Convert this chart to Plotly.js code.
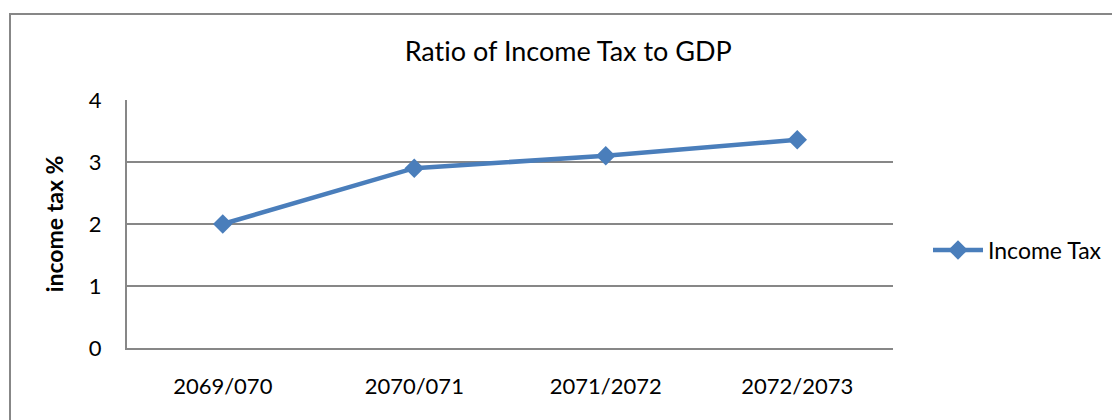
<!DOCTYPE html>
<html>
<head>
<meta charset="utf-8">
<script src="https://cdn.plot.ly/plotly-3.0.1.min.js"></script>
<style>
html,body{margin:0;padding:0;background:#fff;}
#chart{width:1112px;height:420px;}
#chart text{font-variant-ligatures:none;font-feature-settings:"liga" 0;}
</style>
</head>
<body>
<div id="chart"></div>
<script>
const categories = ["2069/070", "2070/071", "2071/2072", "2072/2073"];
const incomeTax = [2.0, 2.9, 3.1, 3.36];
const yTicks = [0, 1, 2, 3, 4];
const seriesName = "Income Tax";

const W = 1112, H = 420;
const mL = 127, mR = 219, mT = 100, mB = 72;
const pw = W - mL - mR, ph = H - mT - mB;
function px(x){ return (x - mL) / pw; }
function py(y){ return (H - mB - y) / ph; }

const trace = {
  x: categories,
  y: incomeTax,
  type: "scatter",
  mode: "lines+markers",
  name: seriesName,
  line: {color: "#4A7EBB", width: 4.5},
  marker: {symbol: "diamond", size: 15, color: "#4A7EBB"}
};

const layout = {
  width: W, height: H,
  margin: {l: mL, r: mR, t: mT, b: mB, autoexpand: false},
  paper_bgcolor: "#fff",
  plot_bgcolor: "#fff",
  font: {family: "Lato, 'Open Sans', sans-serif", color: "#000", size: 22},
  title: {text: "Ratio of Income Tax to GDP", font: {size: 27, color: "#000"}, x: 0.511, xanchor: "center", y: 0.877, yanchor: "middle"},
  showlegend: true,
  legend: {x: px(928), y: py(250), xanchor: "left", yanchor: "middle", font: {size: 23}, bgcolor: "rgba(0,0,0,0)", itemwidth: 50},
  xaxis: {
    type: "category",
    showgrid: false,
    showline: true, linecolor: "#878787", linewidth: 2,
    ticks: "", tickfont: {size: 22},
    ticklabelstandoff: 18,
    range: [-0.5, 3.5],
    automargin: false
  },
  yaxis: {
    range: [0, 4],
    tickvals: yTicks,
    showgrid: true, gridcolor: "#878787", gridwidth: 1.6,
    showline: true, linecolor: "#878787", linewidth: 2,
    zeroline: false,
    ticks: "", tickfont: {size: 22},
    ticklabelstandoff: 19,
    automargin: false,
    title: {text: "<b>income tax %</b>", font: {size: 23}, standoff: 19}
  },
  shapes: [{
    type: "rect", xref: "paper", yref: "paper",
    x0: px(10), x1: px(1130), y0: py(14), y1: py(440),
    line: {color: "#878787", width: 2}, fillcolor: "rgba(0,0,0,0)", layer: "below"
  }]
};

Plotly.newPlot("chart", [trace], layout, {displayModeBar: false, staticPlot: true});
</script>
</body>
</html>
